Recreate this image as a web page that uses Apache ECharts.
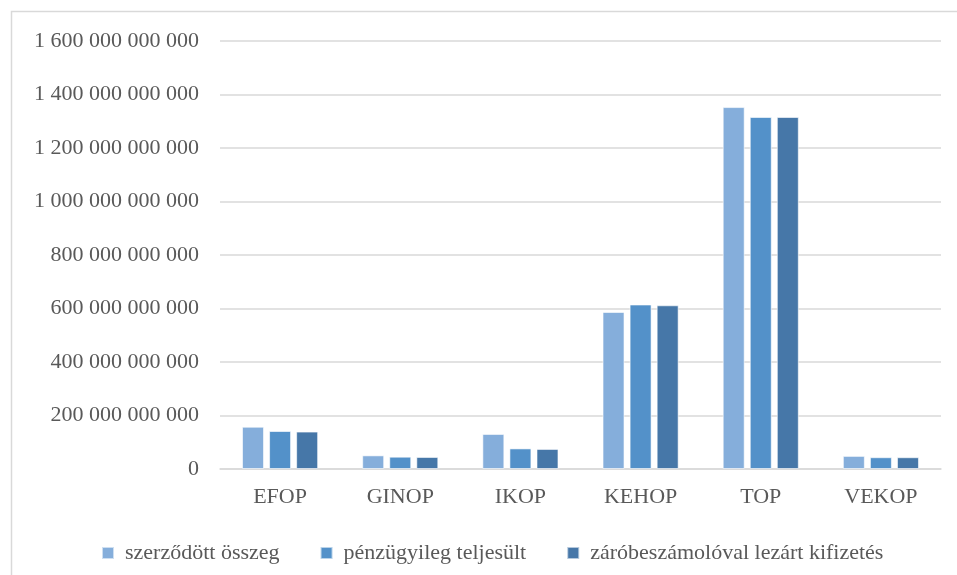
<!DOCTYPE html>
<html>
<head>
<meta charset="utf-8">
<script src="https://cdn.jsdelivr.net/npm/echarts@6/dist/echarts.min.js"></script>
<style>
  html, body { margin: 0; padding: 0; background: #ffffff; }
  #chart { width: 957px; height: 575px; }
</style>
</head>
<body>
<div id="chart"></div>
<script>
// Operational programmes
const categories = ['EFOP', 'GINOP', 'IKOP', 'KEHOP', 'TOP', 'VEKOP'];

// Amounts in HUF
const szerzodott = [158e9, 51e9, 131e9, 587e9, 1353e9, 49e9];
const penzugyileg = [142e9, 46e9, 77e9, 615e9, 1316e9, 44e9];
const zarobeszamolo = [140e9, 45e9, 75e9, 612e9, 1316e9, 44e9];

const seriesNames = ['szerződött összeg', 'pénzügyileg teljesült', 'záróbeszámolóval lezárt kifizetés'];
const seriesColors = ['#85aedb', '#5391c9', '#4677a8'];

const fontFamily = '"Liberation Serif", "DejaVu Serif", serif';
const textColor = '#595959';

function groupThousands(v) {
  return String(Math.round(v)).replace(/\B(?=(\d{3})+(?!\d))/g, ' ');
}

const chart = echarts.init(document.getElementById('chart'), null, { renderer: 'canvas' });

const seriesData = [szerzodott, penzugyileg, zarobeszamolo];

chart.setOption({
  backgroundColor: '#ffffff',
  animation: false,
  graphic: [{
    type: 'rect',
    shape: { x: 11.5, y: 11.5, width: 1200, height: 1200 },
    style: { fill: 'none', stroke: '#d9d9d9', lineWidth: 1.5 },
    silent: true
  }],
  grid: { left: 220, right: 16, top: 41, bottom: 106, containLabel: false },
  legend: {
    left: 96,
    top: 537,
    itemWidth: 12,
    itemHeight: 12,
    itemGap: 40,
    icon: 'rect',
    textStyle: { fontFamily: fontFamily, fontSize: 22, color: textColor, padding: [0, 0, 0, 6] },
    data: seriesNames
  },
  xAxis: {
    type: 'category',
    data: categories,
    axisLine: { show: true, lineStyle: { color: '#d9d9d9', width: 1.5 } },
    axisTick: { show: false },
    axisLabel: { fontFamily: fontFamily, fontSize: 22, color: textColor, margin: 17 }
  },
  yAxis: {
    type: 'value',
    min: 0,
    max: 1600e9,
    interval: 200e9,
    axisLine: { show: false },
    axisTick: { show: false },
    splitLine: { lineStyle: { color: '#d9d9d9', width: 1.5 } },
    axisLabel: {
      fontFamily: fontFamily, fontSize: 22, color: textColor, margin: 21,
      formatter: groupThousands
    }
  },
  series: seriesNames.map((name, i) => ({
    name: name,
    type: 'bar',
    data: seriesData[i],
    barWidth: 22,
    barGap: '23%',
    itemStyle: { color: seriesColors[i], borderColor: 'rgba(255,255,255,0.6)', borderWidth: 1 }
  }))
});
</script>
</body>
</html>
